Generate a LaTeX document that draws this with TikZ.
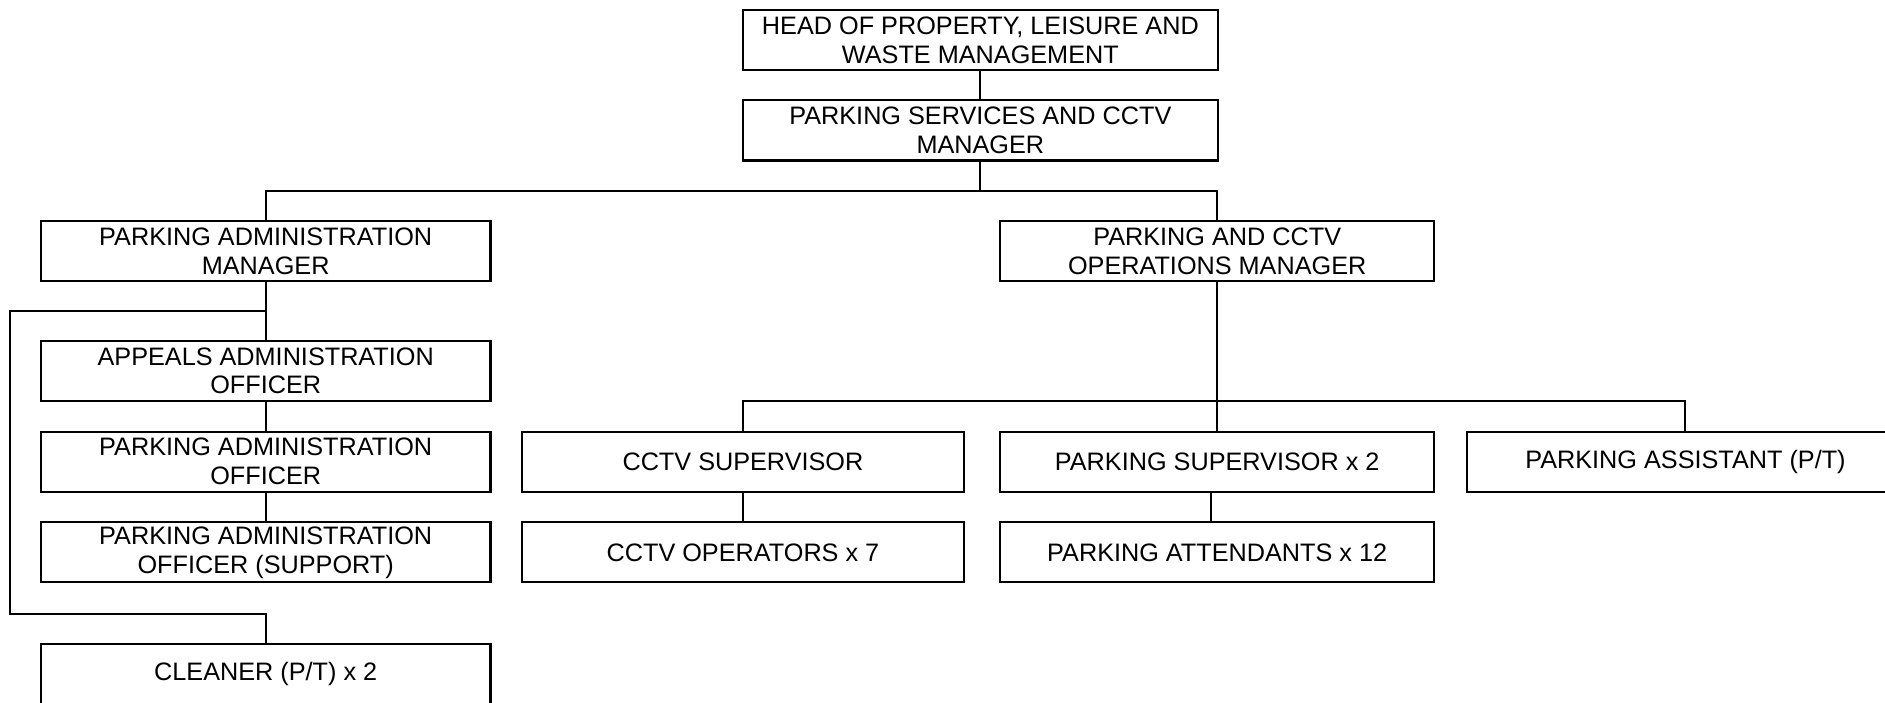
\documentclass[tikz,border=0pt]{standalone}
\usepackage{fontspec}
\setmainfont{Liberation Sans}
\usepackage{tikz}

\begin{document}
\begin{tikzpicture}[x=0.5pt, y=-0.5pt, line width=0.85pt,
		post/.style={draw, rectangle, align=center, inner sep=0pt, minimum height=25pt, font=\fontsize{10.5}{12}\selectfont}]
				\useasboundingbox (0, 0) rectangle (1568, 584);
				\node[post, minimum width=197.5pt] (HP)at(815.5, 33.5) {HEAD OF PROPERTY, LEISURE AND\\WASTE MANAGEMENT};
				\node[post, minimum width=197.5pt] (PS)at(815.5, 108.5) {PARKING SERVICES AND CCTV\\MANAGER};
				\node[post, minimum width=187pt] (PAM)at(221, 209) {PARKING ADMINISTRATION\\MANAGER};
				\node[post, minimum width=180.5pt] (OPS)at(1012.5, 209) {PARKING AND CCTV\\OPERATIONS MANAGER};
				\node[post, minimum width=187pt] (AAO)at(221, 308.5) {APPEALS ADMINISTRATION\\OFFICER};
				\node[post, minimum width=187pt] (PAO)at(221, 384) {PARKING ADMINISTRATION\\OFFICER};
				\node[post, minimum width=187pt] (PAOS)at(221, 459.5) {PARKING ADMINISTRATION\\OFFICER (SUPPORT)};
				\node[post, minimum width=187pt] (CL)at(221, 560.5) {CLEANER (P/T) x 2};
				\node[post, minimum width=184pt] (CS)at(618, 384) {CCTV SUPERVISOR};
				\node[post, minimum width=180.5pt] (PSV)at(1012.5, 384) {PARKING SUPERVISOR x 2};
				\node[post, minimum width=182pt] (PA)at(1402, 384) {PARKING ASSISTANT (P/T)};
				\node[post, minimum width=184pt] (CO)at(618, 459.5) {CCTV OPERATORS x 7};
				\node[post, minimum width=180.5pt] (ATT)at(1012.5, 459.5) {PARKING ATTENDANTS x 12};
				\coordinate (B1)at(815.5, 158.5);
				\coordinate (B2)at(1012.5, 333.5);
				\coordinate (L1)at(221, 258.5);
				\coordinate (L2)at(8, 258.5);
				\coordinate (L3)at(8, 510.5);
				\draw (HP) -- (PS);
				\draw (PS) -- (B1);
				\draw (PAM.north) |- (B1) -| (OPS.north);
				\draw (PAM) -- (AAO);
				\draw (AAO) -- (PAO);
				\draw (PAO) -- (PAOS);
				\draw (L1) -- (L2) -- (L3) -| (CL.north);
				\draw (OPS) -- (PSV);
				\draw (CS.north) |- (B2) -| (PA.north);
				\draw (CS) -- (CO);
				\draw ([xshift=-2.75pt]PSV.south) -- ([xshift=-2.75pt]ATT.north);
			\end{tikzpicture}
\end{document}
